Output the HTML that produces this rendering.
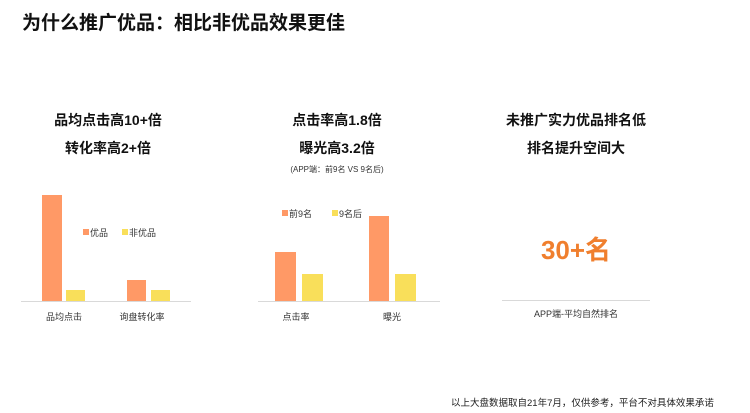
<!DOCTYPE html>
<html><head><meta charset="utf-8"><style>
body{margin:0;width:750px;height:413px;background:#fff;position:relative;overflow:hidden;font-family:"Liberation Sans","Noto Sans CJK SC",sans-serif;color:#222}
.a{position:absolute;white-space:nowrap}
.c{transform:translateX(-50%)}
.t{font-weight:bold;font-size:14px;color:#111}
.b{position:absolute}
.o{background:#FF9966}
.y{background:#F9DF5A}
.ln{position:absolute;height:1px;background:#d9d9d9}
.s{font-size:9px;color:#333}
</style></head><body>
<div class="a" style="left:22px;top:8px;font-size:19px;font-weight:bold;color:#111">为什么推广优品：相比非优品效果更佳</div>

<div class="a c t" style="left:108px;top:110px">品均点击高10+倍</div>
<div class="a c t" style="left:108px;top:138px">转化率高2+倍</div>
<div class="a c t" style="left:337px;top:110px">点击率高1.8倍</div>
<div class="a c t" style="left:337px;top:138px">曝光高3.2倍</div>
<div class="a c" style="left:337px;top:164px;font-size:8px;color:#333">(APP端：前9名 VS 9名后)</div>
<div class="a c t" style="left:576px;top:110px">未推广实力优品排名低</div>
<div class="a c t" style="left:576px;top:138px">排名提升空间大</div>

<!-- left chart -->
<div class="ln" style="left:21px;top:301px;width:170px"></div>
<div class="b o" style="left:42px;top:195px;width:20px;height:106px"></div>
<div class="b y" style="left:66px;top:290px;width:19px;height:11px"></div>
<div class="b o" style="left:127px;top:280px;width:19px;height:21px"></div>
<div class="b y" style="left:151px;top:290px;width:19px;height:11px"></div>
<div class="b o" style="left:83px;top:229px;width:6px;height:6px"></div>
<div class="a s" style="left:90px;top:226px">优品</div>
<div class="b y" style="left:122px;top:229px;width:6px;height:6px"></div>
<div class="a s" style="left:129px;top:226px">非优品</div>
<div class="a c s" style="left:64px;top:310px">品均点击</div>
<div class="a c s" style="left:142px;top:310px">询盘转化率</div>

<!-- middle chart -->
<div class="ln" style="left:258px;top:301px;width:182px"></div>
<div class="b o" style="left:275px;top:252px;width:21px;height:49px"></div>
<div class="b y" style="left:302px;top:274px;width:21px;height:27px"></div>
<div class="b o" style="left:369px;top:216px;width:20px;height:85px"></div>
<div class="b y" style="left:395px;top:274px;width:21px;height:27px"></div>
<div class="b o" style="left:282px;top:210px;width:6px;height:6px"></div>
<div class="a s" style="left:289px;top:207px">前9名</div>
<div class="b y" style="left:332px;top:210px;width:6px;height:6px"></div>
<div class="a s" style="left:339px;top:207px">9名后</div>
<div class="a c s" style="left:296px;top:310px">点击率</div>
<div class="a c s" style="left:392px;top:310px">曝光</div>

<!-- right -->
<div class="a c" style="left:576px;top:230px;font-size:26px;font-weight:bold;color:#F07F2E">30+名</div>
<div class="ln" style="left:502px;top:300px;width:148px"></div>
<div class="a c s" style="left:576px;top:307px">APP端-平均自然排名</div>

<div class="a" style="left:451px;top:395px;font-size:9.5px;color:#222">以上大盘数据取自21年7月，仅供参考，平台不对具体效果承诺</div>
</body></html>
